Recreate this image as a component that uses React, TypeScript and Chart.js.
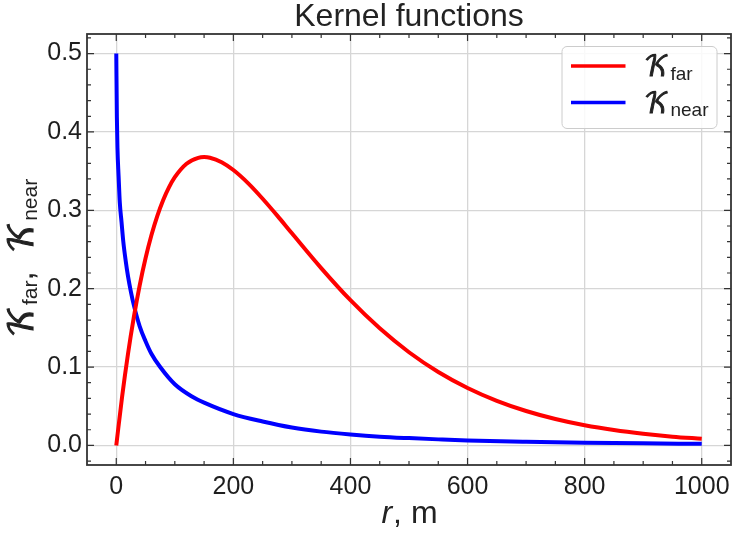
import React, { useEffect, useRef } from "react";
import { Chart, registerables } from "chart.js";

Chart.register(...registerables);

// ---- data ----
const farR = [0, 10, 20, 30, 40, 50, 60, 70, 80, 90, 100, 120, 140, 150, 160, 180, 200, 225, 250, 275, 300, 350, 400, 450, 500, 550, 600, 650, 700, 750, 800, 850, 900, 950, 1000];
const farK = [0, 0.0624, 0.1167, 0.1637, 0.2043, 0.2388, 0.2681, 0.2926, 0.3129, 0.3293, 0.3423, 0.3595, 0.367, 0.3679, 0.3671, 0.3614, 0.3514, 0.3347, 0.3148, 0.2932, 0.2707, 0.2263, 0.1853, 0.1494, 0.1189, 0.0937, 0.0733, 0.0569, 0.0439, 0.0337, 0.0257, 0.0196, 0.0149, 0.0112, 0.0085];

const nearR = [0, 1, 2, 4, 6, 9, 12, 16, 20, 25, 30, 40, 50, 60, 75, 100, 130, 150, 200, 250, 300, 350, 400, 450, 500, 550, 600, 700, 800, 900, 1000];
const nearK = [0.5, 0.42, 0.38, 0.343, 0.31, 0.285, 0.26, 0.236, 0.216, 0.196, 0.179, 0.152, 0.133, 0.117, 0.1, 0.078, 0.062, 0.0545, 0.04, 0.0305, 0.0228, 0.0176, 0.014, 0.0112, 0.0093, 0.0077, 0.0063, 0.0046, 0.0034, 0.0026, 0.002];

const xTickValues = [0, 200, 400, 600, 800, 1000];
const yTickValues = [0, 0.1, 0.2, 0.3, 0.4, 0.5];
const xMinorStep = 50;
const yMinorStep = 0.02;

const titleText = "Kernel functions";
const legendSubs = ["far", "near"];
const KCHAR = "\u{1D4A6}";

const SANS = '"Liberation Sans", Arial, Helvetica, sans-serif';
const KFONT = '"DejaVu Math TeX Gyre", "DejaVu Serif", "DejaVu Sans", serif';

function drawK(ctx: CanvasRenderingContext2D, x: number, y: number, kSize: number, subSize: number, sub: string, trailing = "") {
  ctx.font = `${kSize}px ${KFONT}`;
  ctx.fillText(KCHAR, x, y);
  ctx.lineWidth = kSize * 0.035;
  ctx.strokeStyle = ctx.fillStyle as string;
  ctx.strokeText(KCHAR, x, y);
  let w = ctx.measureText(KCHAR).width;
  ctx.font = `${subSize}px ${SANS}`;
  ctx.fillText(sub, x + w + 1, y + subSize * 0.2);
  w += 1 + ctx.measureText(sub).width;
  if (trailing) {
    ctx.font = `${kSize}px ${SANS}`;
    ctx.fillText(trailing, x + w, y);
    w += ctx.measureText(trailing).width;
  }
  return w;
}

function measureK(ctx: CanvasRenderingContext2D, kSize: number, subSize: number, sub: string, trailing = "") {
  ctx.font = `${kSize}px ${KFONT}`;
  let w = ctx.measureText(KCHAR).width;
  ctx.font = `${subSize}px ${SANS}`;
  w += 1 + ctx.measureText(sub).width;
  if (trailing) {
    ctx.font = `${kSize}px ${SANS}`;
    w += ctx.measureText(trailing).width;
  }
  return w;
}

const decor = {
  id: "decor",
  afterDatasetsDraw(chart: any) {
    const { ctx, chartArea: a, scales } = chart;
    const xs = scales.x;
    const ys = scales.y;
    ctx.save();
    // frame
    ctx.strokeStyle = "#333333";
    ctx.lineWidth = 1.8;
    ctx.strokeRect(a.left, a.top, a.right - a.left, a.bottom - a.top);
    // ticks (inward, all sides)
    ctx.lineWidth = 1.2;
    ctx.beginPath();
    const major = 7, minor = 4;
    for (let v = xs.min; v <= xs.max + 1e-9; v += xMinorStep) {
      const px = xs.getPixelForValue(v);
      if (px <= a.left + 1 || px >= a.right - 1) continue;
      const len = xTickValues.includes(Math.round(v)) ? major : minor;
      ctx.moveTo(px, a.bottom); ctx.lineTo(px, a.bottom - len);
      ctx.moveTo(px, a.top); ctx.lineTo(px, a.top + len);
    }
    for (let i = -1; i <= 26; i++) {
      const v = i * yMinorStep;
      const py = ys.getPixelForValue(v);
      if (py <= a.top + 1 || py >= a.bottom - 1) continue;
      const len = i % 5 === 0 ? major : minor;
      ctx.moveTo(a.left, py); ctx.lineTo(a.left + len, py);
      ctx.moveTo(a.right, py); ctx.lineTo(a.right - len, py);
    }
    ctx.stroke();

    // legend
    const lx = a.right - 169, ly = a.top + 12.5, lw = 155, lh = 82;
    ctx.beginPath();
    ctx.roundRect(lx, ly, lw, lh, 5);
    ctx.fillStyle = "rgba(255,255,255,0.85)";
    ctx.fill();
    ctx.strokeStyle = "#cccccc";
    ctx.lineWidth = 1;
    ctx.stroke();
    chart.data.datasets.forEach((ds: any, i: number) => {
      const yy = ly + 19.5 + i * 36.5;
      ctx.strokeStyle = ds.borderColor;
      ctx.lineWidth = 3.5;
      ctx.beginPath();
      ctx.moveTo(lx + 9, yy);
      ctx.lineTo(lx + 63.5, yy);
      ctx.stroke();
      ctx.fillStyle = "#222222";
      ctx.textBaseline = "alphabetic";
      ctx.textAlign = "left";
      drawK(ctx, lx + 82, yy + 10, 27, 19, legendSubs[i]);
    });

    // title
    ctx.fillStyle = "#222222";
    ctx.textAlign = "center";
    ctx.textBaseline = "alphabetic";
    ctx.font = `32px ${SANS}`;
    ctx.fillText(titleText, (a.left + a.right) / 2, 26);

    // x label: italic r, then ", m"
    ctx.textAlign = "left";
    ctx.font = `italic 32px ${SANS}`;
    const rW = ctx.measureText("r").width;
    ctx.font = `32px ${SANS}`;
    const restW = ctx.measureText(", m").width;
    const cx = (a.left + a.right) / 2;
    const sx = cx - (rW + restW) / 2;
    ctx.font = `italic 32px ${SANS}`;
    ctx.fillText("r", sx, 523);
    ctx.font = `32px ${SANS}`;
    ctx.fillText(", m", sx + rW + 1, 523);

    // y label (rotated)
    ctx.save();
    ctx.translate(33, 258);
    ctx.rotate(-Math.PI / 2);
    const w1 = measureK(ctx, 33, 21, legendSubs[0], ",  ");
    const w2 = measureK(ctx, 33, 21, legendSubs[1]);
    const start = -(w1 + w2) / 2;
    drawK(ctx, start, 0, 33, 21, legendSubs[0], ",  ");
    drawK(ctx, start + w1, 0, 33, 21, legendSubs[1]);
    ctx.restore();

    ctx.restore();
  },
};

export default function App() {
  const ref = useRef<HTMLCanvasElement | null>(null);
  useEffect(() => {
    document.body.style.margin = "0";
    const canvas = ref.current!;
    const chart = new Chart(canvas, {
      type: "line",
      data: {
        datasets: [
          {
            label: "K_far",
            data: farR.map((r, i) => ({ x: r, y: farK[i] })),
            borderColor: "#ff0000",
            borderWidth: 4,
            pointRadius: 0,
            cubicInterpolationMode: "monotone",
            fill: false,
          },
          {
            label: "K_near",
            data: nearR.map((r, i) => ({ x: r, y: nearK[i] })),
            borderColor: "#0000ff",
            borderWidth: 4,
            pointRadius: 0,
            cubicInterpolationMode: "monotone",
            fill: false,
          },
        ],
      },
      options: {
        responsive: false,
        animation: false,
        devicePixelRatio: 1,
        layout: { padding: { top: 34, right: 1, left: 0, bottom: 0 } },
        plugins: { legend: { display: false }, tooltip: { enabled: false }, title: { display: false } },
        scales: {
          x: {
            type: "linear",
            min: -50,
            max: 1050,
            border: { display: false },
            grid: { color: "#d6d6d6", lineWidth: 1.3, drawTicks: false },
            afterBuildTicks: (s: any) => { s.ticks = xTickValues.map((v) => ({ value: v })); },
            afterFit: (s: any) => { s.height = 74; s.paddingLeft = 0; s.paddingRight = 0; },
            ticks: {
              padding: 7,
              color: "#1e1e1e",
              font: { family: SANS, size: 25 },
              maxRotation: 0,
              autoSkip: false,
              callback: (v: any) => String(v),
            },
          },
          y: {
            type: "linear",
            min: -0.025,
            max: 0.525,
            border: { display: false },
            grid: { color: "#d6d6d6", lineWidth: 1.3, drawTicks: false },
            afterBuildTicks: (s: any) => { s.ticks = yTickValues.map((v) => ({ value: v })); },
            afterFit: (s: any) => { s.width = 87; s.paddingTop = 0; s.paddingBottom = 0; },
            ticks: {
              padding: 5,
              color: "#1e1e1e",
              font: { family: SANS, size: 25 },
              autoSkip: false,
              callback: (v: any) => Number(v).toFixed(1),
            },
          },
        },
      },
      plugins: [decor],
    });
    return () => chart.destroy();
  }, []);
  return (
    <div style={{ width: 732, height: 539, position: "relative", overflow: "hidden" }}>
      <canvas ref={ref} width={732} height={539} style={{ display: "block", width: 732, height: 539 }} />
    </div>
  );
}
